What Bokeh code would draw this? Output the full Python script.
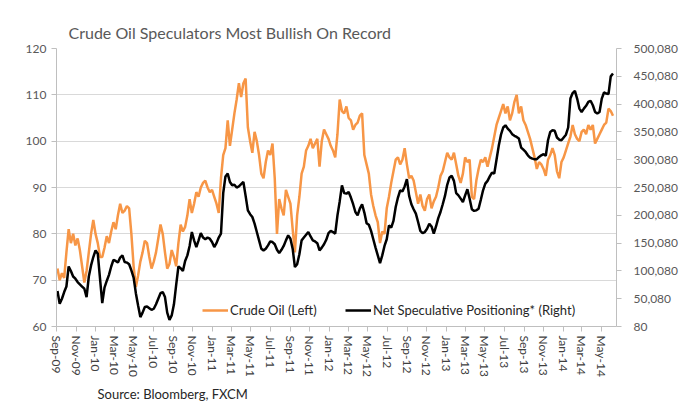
import pandas as pd
from bokeh.plotting import figure
from bokeh.models import (Range1d, LinearAxis, FixedTicker, NumeralTickFormatter,
                          DatetimeTickFormatter, Legend, LegendItem, Title)
from bokeh.embed import file_html
from bokeh.resources import INLINE

# ---------------- data (weekly) ----------------
first_week = "2009-09-04"

crude_oil = [
    72.5, 70.0, 71.5, 70.5, 76.0, 81.0, 78.0, 80.0, 77.5, 79.0,
    76.5, 73.0, 69.5, 72.0, 76.0, 80.0, 83.0, 80.0, 78.0, 75.0,
    75.0, 77.0, 79.5, 78.0, 80.5, 82.5, 81.0, 84.0, 86.5, 84.5,
    85.0, 86.0, 85.5, 80.0, 73.0, 68.5, 71.0, 74.0, 76.0, 78.5,
    78.0, 75.0, 72.5, 74.0, 76.0, 79.0, 82.0, 80.0, 76.0, 72.5,
    73.5, 76.5, 75.0, 73.0, 78.0, 82.0, 80.5, 81.5, 84.0, 87.5,
    84.5, 86.5, 89.0, 88.0, 90.0, 91.0, 91.5, 90.0, 89.0, 89.5,
    88.0, 86.5, 84.5, 92.0, 97.0, 98.5, 104.5, 99.0, 102.5, 106.0,
    109.0, 112.5, 109.5, 112.5, 113.5, 103.0, 100.0, 97.5, 102.0, 100.0,
    97.0, 93.0, 92.0, 95.5, 98.0, 97.0, 99.5, 92.0, 80.0, 87.5,
    85.5, 84.0, 89.5, 88.0, 86.5, 81.0, 76.0, 84.0, 88.0, 93.0,
    94.5, 98.0, 99.0, 100.5, 98.5, 99.5, 100.5, 94.5, 100.0, 102.5,
    101.5, 100.5, 99.0, 98.0, 96.5, 101.5, 109.0, 106.5, 106.0, 107.5,
    105.0, 104.5, 102.5, 103.5, 104.0, 105.5, 106.0, 97.0, 95.0, 93.0,
    88.5, 86.0, 84.0, 82.5, 78.0, 80.5, 80.0, 85.5, 88.0, 91.0,
    93.5, 96.0, 96.5, 95.0, 96.0, 98.5, 95.0, 92.0, 92.5, 91.5,
    89.0, 86.5, 88.5, 86.0, 85.0, 87.5, 88.5, 85.5, 87.0, 88.0,
    90.0, 92.5, 93.5, 95.5, 97.5, 96.5, 96.0, 97.5, 95.0, 92.5,
    91.0, 93.0, 96.5, 95.5, 96.0, 88.0, 87.5, 91.5, 94.0, 96.0,
    95.5, 96.5, 94.5, 96.5, 98.5, 101.0, 103.5, 105.0, 106.5, 108.0,
    106.0, 107.5, 104.5, 106.0, 108.5, 110.0, 106.0, 107.5, 104.5, 103.5,
    102.0, 100.5, 98.5, 96.5, 94.0, 95.5, 95.0, 94.0, 92.5, 96.0,
    97.0, 98.5, 97.0, 93.5, 92.0, 95.5, 96.5, 98.0, 99.5, 101.0,
    103.5, 101.5, 100.5, 100.0, 102.0, 102.5, 101.5, 103.5, 102.5, 103.5,
    99.5, 100.5, 101.5, 102.5, 103.5, 104.0, 107.0, 106.5, 105.5,
]

# net speculative positioning, thousands of contracts
net_positions_k = [
    64, 41, 50, 62, 72, 108, 100, 90, 86, 80,
    76, 72, 68, 53, 90, 110, 125, 137, 131, 86,
    42, 70, 82, 93, 108, 120, 118, 115, 124, 128,
    116, 115, 112, 101, 88, 60, 38, 17, 25, 35,
    36, 33, 30, 32, 40, 50, 60, 62, 53, 25,
    12, 20, 40, 75, 108, 105, 100, 118, 128, 145,
    170, 155, 143, 155, 168, 160, 157, 160, 158, 152,
    143, 150, 160, 167, 240, 270, 275, 260, 254, 255,
    250, 252, 256, 260, 235, 209, 202, 197, 185, 170,
    155, 140, 137, 140, 146, 153, 152, 148, 138, 132,
    138, 145, 155, 164, 158, 140, 107, 112, 130, 155,
    160, 165, 170, 162, 155, 153, 150, 137, 142, 148,
    156, 168, 172, 170, 167, 200, 225, 254, 240, 239,
    242, 232, 220, 206, 200, 212, 220, 205, 186, 183,
    172, 157, 142, 128, 114, 128, 145, 157, 182, 178,
    190, 215, 232, 245, 243, 252, 265, 235, 220, 211,
    203, 188, 172, 168, 170, 176, 185, 180, 167, 180,
    195, 206, 220, 235, 255, 268, 271, 262, 240, 236,
    230, 224, 236, 247, 230, 211, 208, 209, 212, 228,
    245, 257, 262, 270, 277, 275, 300, 325, 345, 358,
    362, 356, 352, 346, 343, 341, 338, 322, 318, 314,
    308, 304, 302, 301, 301, 305, 308, 310, 307, 335,
    350, 353, 352, 340, 336, 335, 340, 345, 358, 410,
    420, 424, 410, 392, 386, 392, 397, 404, 406, 398,
    386, 383, 386, 410, 421, 419, 418, 450, 455,
]

left_ticks = [60, 70, 80, 90, 100, 110, 120]
right_ticks = [80, 50080, 100080, 150080, 200080, 250080, 300080,
               350080, 400080, 450080, 500080]
x_tick_months = pd.date_range("2009-09-01", "2014-05-01", freq="2MS")

title_text = "Crude Oil Speculators Most Bullish On Record"
source_text = "Source: Bloomberg, FXCM"
oil_label = "Crude Oil (Left)"
pos_label = "Net Speculative Positioning* (Right)"

# ---------------- build ----------------
dates = pd.date_range(first_week, periods=len(crude_oil), freq="7D")
net_positions = [v * 1000 for v in net_positions_k]

FONT = "Lato"
AX_COLOR = "#BFBFBF"
LBL_COLOR = "#595959"

p = figure(width=680, height=417, x_axis_type="datetime",
           x_range=Range1d(pd.Timestamp("2009-09-01"), pd.Timestamp("2014-06-17")),
           y_range=Range1d(60, 120),
           output_backend="svg", toolbar_location=None,
           min_border_left=56, min_border_right=63,
           min_border_top=48, min_border_bottom=91)
p.extra_y_ranges = {"right": Range1d(80, 500080)}

p.background_fill_color = "white"
p.border_fill_color = "white"
p.outline_line_color = None

p.title.text = title_text
p.title.text_font = FONT
p.title.text_font_size = "16px"
p.title.text_font_style = "normal"
p.title.text_color = LBL_COLOR
p.title.offset = 12
p.title.standoff = 14

src = Title(text=source_text, text_font=FONT, text_font_size="13px",
            text_font_style="normal", text_color="#262626", offset=41, standoff=8)
p.add_layout(src, "below")

# left axis
yl = p.yaxis[0]
yl.ticker = FixedTicker(ticks=left_ticks)
yl.axis_line_color = AX_COLOR
yl.major_tick_line_color = AX_COLOR
yl.major_tick_out = 5
yl.major_tick_in = 0
yl.minor_tick_line_color = None
yl.major_label_text_font = FONT
yl.major_label_text_font_size = "12px"
yl.major_label_text_color = LBL_COLOR
yl.major_label_standoff = 5

# right axis
yr = LinearAxis(y_range_name="right", ticker=FixedTicker(ticks=right_ticks),
                formatter=NumeralTickFormatter(format="0,0"))
yr.axis_line_color = AX_COLOR
yr.major_tick_line_color = AX_COLOR
yr.major_tick_out = 5
yr.major_tick_in = 0
yr.minor_tick_line_color = None
yr.major_label_text_font = FONT
yr.major_label_text_font_size = "12px"
yr.major_label_text_color = LBL_COLOR
yr.major_label_standoff = 12
p.add_layout(yr, "right")

# x axis
xa = p.xaxis[0]
xa.ticker = FixedTicker(ticks=[int(t.value // 10**6) for t in x_tick_months])
fmt = "%b-%y"
xa.formatter = DatetimeTickFormatter(days=fmt, months=fmt, years=fmt, hours=fmt,
                                     minutes=fmt, seconds=fmt, milliseconds=fmt,
                                     microseconds=fmt, minsec=fmt, hourmin=fmt)
xa.major_label_orientation = "vertical"
xa.axis_line_color = AX_COLOR
xa.major_tick_line_color = AX_COLOR
xa.major_tick_out = 5
xa.major_tick_in = 0
xa.minor_tick_line_color = None
xa.major_label_text_font = FONT
xa.major_label_text_font_size = "12px"
xa.major_label_text_color = "#404040"
xa.major_label_standoff = 4

p.xgrid.grid_line_color = None
p.ygrid.grid_line_color = "#D9D9D9"
p.ygrid.grid_line_width = 1

r_oil = p.line(dates, crude_oil, line_color="#F79646", line_width=2.5)
r_pos = p.line(dates, net_positions, y_range_name="right",
               line_color="#000000", line_width=2.5)

def make_legend(item, loc):
    lg = Legend(items=[item], location=loc, orientation="horizontal",
                border_line_color=None, background_fill_alpha=0,
                padding=0, margin=0, label_standoff=2, glyph_width=26,
                glyph_height=20, label_height=20,
                label_text_font=FONT, label_text_font_size="13px",
                label_text_color="#262626")
    return lg

p.add_layout(make_legend(LegendItem(label=oil_label, renderers=[r_oil]), (146, 6)))
p.add_layout(make_legend(LegendItem(label=pos_label, renderers=[r_pos]), (289, 6)))

open("out.html", "w").write(file_html(p, INLINE))
